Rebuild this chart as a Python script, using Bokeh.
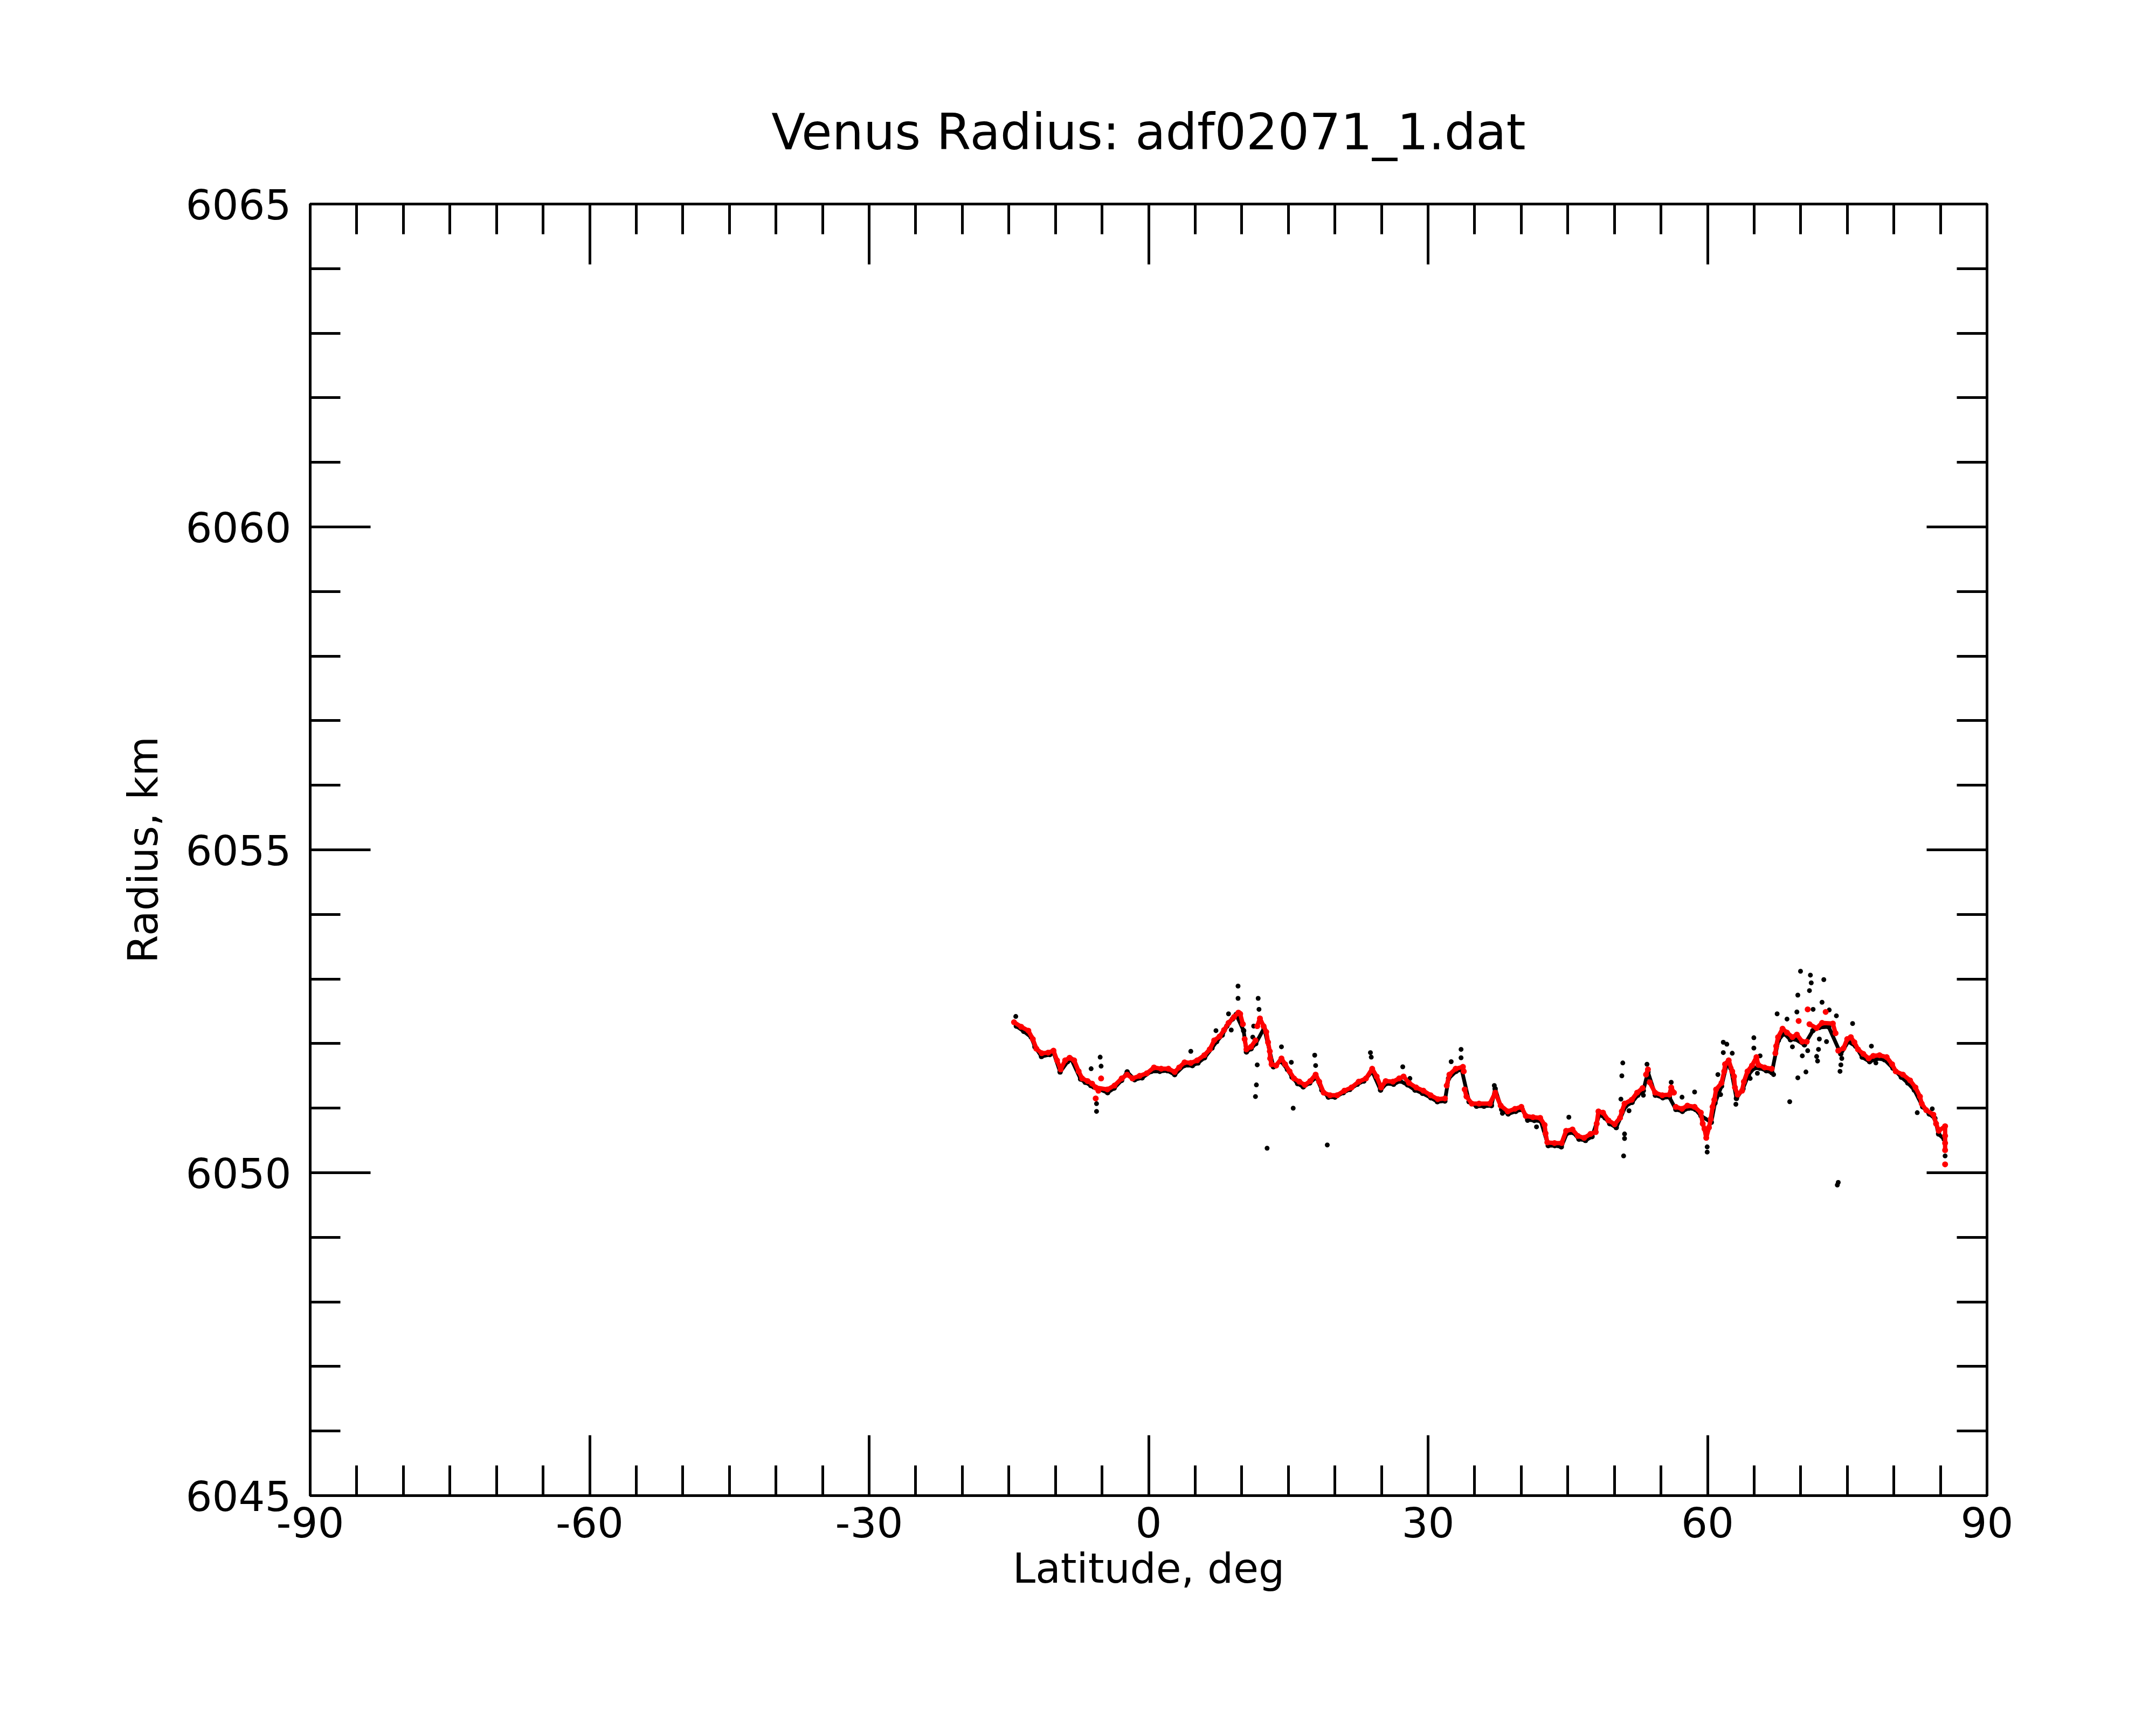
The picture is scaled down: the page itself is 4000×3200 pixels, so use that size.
from bokeh.plotting import figure
from bokeh.models import LinearAxis, FixedTicker, Range1d, ColumnDataSource
from bokeh.embed import file_html
from bokeh.resources import INLINE

# ---------------- data ----------------
title_text = "Venus Radius: adf02071_1.dat"
x_label = "Latitude, deg"
y_label = "Radius, km"

x_major = [-90, -60, -30, 0, 30, 60, 90]
x_major_labels = ["-90", "-60", "-30", "0", "30", "60", "90"]
y_major = [6045, 6050, 6055, 6060, 6065]
y_major_labels = ["6045", "6050", "6055", "6060", "6065"]

# smoothed radius profile (red), continuous trace
red_lat = [-14.45, -13.68, -12.91, -12.43, -12.05, -11.47, -10.79, -10.21, -9.83, -9.44,
           -8.96, -8.48, -7.99, -7.51, -7.13, -6.55, -6.07, -5.68, -4.43, -3.66,
           -2.89, -2.31, -1.73, -0.96, -0.19, 0.58, 1.35, 2.13, 2.80, 3.28,
           3.86, 4.53, 5.21, 5.98, 6.56, 7.04, 7.62, 8.10, 8.58, 9.16,
           9.64, 9.83, 10.12, 10.31, 10.50, 10.99, 11.47, 11.66, 11.95, 12.34,
           12.63, 12.82, 13.01, 13.05, 13.20, 13.69, 14.26, 14.65, 15.13, 15.61,
           16.19, 16.77, 17.35, 17.93, 18.31, 18.79, 19.47, 20.24, 21.01, 21.78,
           22.55, 23.33, 24.00, 24.48, 24.96, 25.45, 26.22, 26.89, 27.37, 27.95,
           28.72, 29.50, 30.27, 31.04, 31.81, 32.00, 32.29, 32.96, 33.74, 33.83,
           33.93, 34.12, 34.70, 35.47, 36.63, 37.21, 37.79, 38.56, 39.33, 40.01,
           40.49, 41.26, 42.03, 42.51, 42.61, 42.80, 43.57, 44.34, 44.82, 45.50,
           46.08, 46.75, 47.43, 48.00, 48.10, 48.29, 48.78, 49.36, 50.03, 50.61,
           50.80, 51.09, 51.86, 52.44, 53.02, 53.40, 53.60, 53.79, 54.37, 55.14,
           55.91, 56.10, 56.39, 56.59, 57.26, 57.84, 58.61, 59.28, 59.48, 59.67,
           59.86, 60.15, 60.34, 60.54, 60.73, 60.92, 61.50, 61.79, 61.88, 62.27,
           62.65, 62.84, 62.94, 63.23, 63.71, 63.90, 64.29, 64.77, 65.25, 65.45,
           66.12, 66.89, 67.28, 67.37, 67.57, 68.05, 68.53, 69.11, 69.59, 70.17,
           70.65, 70.94, 71.71, 72.29, 73.45, 73.74, 74.03, 74.60, 74.99, 75.38,
           75.76, 76.15, 76.72, 77.30, 77.79, 78.46, 79.23, 79.81, 80.20, 80.97,
           81.74, 82.32, 82.80, 82.99, 83.47, 84.24, 84.53, 84.82, 85.50, 85.50,
           85.50, 85.50, 85.50]
red_rad = [6052.33, 6052.26, 6052.20, 6052.07, 6051.92, 6051.85, 6051.86, 6051.89, 6051.74, 6051.60,
           6051.74, 6051.78, 6051.74, 6051.57, 6051.46, 6051.42, 6051.38, 6051.32, 6051.29, 6051.35,
           6051.46, 6051.52, 6051.46, 6051.50, 6051.54, 6051.63, 6051.61, 6051.61, 6051.56, 6051.63,
           6051.71, 6051.70, 6051.74, 6051.82, 6051.91, 6052.05, 6052.11, 6052.21, 6052.32, 6052.41,
           6052.48, 6052.46, 6052.30, 6052.07, 6051.91, 6051.95, 6052.05, 6052.27, 6052.39, 6052.27,
           6052.18, 6052.02, 6051.88, 6051.77, 6051.68, 6051.66, 6051.77, 6051.68, 6051.57, 6051.46,
           6051.41, 6051.36, 6051.42, 6051.52, 6051.41, 6051.24, 6051.20, 6051.20, 6051.27, 6051.32,
           6051.41, 6051.46, 6051.61, 6051.49, 6051.32, 6051.42, 6051.41, 6051.46, 6051.49, 6051.39,
           6051.32, 6051.27, 6051.20, 6051.14, 6051.15, 6051.35, 6051.52, 6051.61, 6051.64, 6051.57,
           6051.29, 6051.18, 6051.07, 6051.07, 6051.07, 6051.24, 6051.04, 6050.95, 6050.99, 6051.02,
           6050.88, 6050.86, 6050.85, 6050.74, 6050.61, 6050.47, 6050.46, 6050.46, 6050.65, 6050.67,
           6050.57, 6050.54, 6050.60, 6050.63, 6050.76, 6050.95, 6050.93, 6050.81, 6050.75, 6050.85,
           6050.95, 6051.07, 6051.13, 6051.24, 6051.31, 6051.52, 6051.60, 6051.40, 6051.24, 6051.20,
           6051.21, 6051.32, 6051.24, 6051.02, 6050.99, 6051.04, 6051.02, 6050.93, 6050.76, 6050.68,
           6050.54, 6050.70, 6050.83, 6051.02, 6051.13, 6051.29, 6051.39, 6051.57, 6051.68, 6051.74,
           6051.57, 6051.49, 6051.32, 6051.21, 6051.27, 6051.41, 6051.57, 6051.66, 6051.79, 6051.67,
           6051.63, 6051.61, 6051.85, 6051.96, 6052.10, 6052.23, 6052.17, 6052.10, 6052.14, 6052.03,
           6052.03, 6052.30, 6052.24, 6052.32, 6052.31, 6052.16, 6051.89, 6051.93, 6052.07, 6052.10,
           6052.02, 6051.91, 6051.84, 6051.77, 6051.81, 6051.82, 6051.79, 6051.68, 6051.57, 6051.52,
           6051.43, 6051.32, 6051.18, 6051.07, 6050.97, 6050.90, 6050.76, 6050.65, 6050.72, 6050.57,
           6050.46, 6050.35, 6050.13]

# smoothed profile (red), isolated dots off the trace
red_dot_lat = [-5.68, -5.39, -5.10, 69.78, 70.75, 72.68]
red_dot_rad = [6051.15, 6051.27, 6051.46, 6052.35, 6052.53, 6052.49]

# raw radius samples (black) that show beside the red trace
raw_lat = [-14.2, -13.4, -12.6, -12.2, -11.5, -10.6, -10.2, -9.5, -8.7, -8.3,
           -7.3, -6.8, -6.2, -5.9, -4.4, -3.7, -2.9, -2.3, -1.5, -0.7,
           0.3, 1.2, 2.0, 2.8, 3.8, 4.7, 5.3, 6.0, 6.8, 7.3,
           7.9, 8.4, 9.0, 9.4, 10.2, 10.5, 11.0, 11.5, 12.4, 13.4,
           14.2, 14.9, 15.4, 16.0, 16.6, 17.3, 18.0, 18.6, 19.3, 20.0,
           20.9, 21.6, 22.4, 23.1, 24.0, 24.9, 25.5, 26.3, 27.0, 27.8,
           28.6, 29.4, 30.3, 31.0, 31.8, 32.2, 33.0, 33.6, 34.4, 35.2,
           36.0, 36.8, 37.2, 37.9, 38.6, 39.4, 40.1, 40.7, 41.4, 42.1,
           42.9, 43.6, 44.3, 44.9, 45.6, 46.2, 46.9, 47.6, 48.4, 49.0,
           49.5, 50.2, 51.2, 51.9, 52.5, 53.1, 53.6, 54.4, 55.2, 55.9,
           56.6, 57.3, 58.0, 58.7, 59.3, 60.4, 60.8, 61.5, 62.1, 62.5,
           63.1, 63.8, 64.4, 65.0, 65.6, 66.3, 66.9, 67.6, 68.2, 68.9,
           69.4, 70.4, 71.3, 72.0, 73.0, 74.3, 75.1, 75.9, 76.6, 77.4,
           78.2, 79.0, 79.9, 80.8, 81.5, 82.2, 83.1, 83.8, 84.4, 84.8,
           85.4]
raw_rad = [6052.27, 6052.19, 6052.10, 6051.95, 6051.80, 6051.83, 6051.86, 6051.56, 6051.72, 6051.76,
           6051.45, 6051.40, 6051.35, 6051.33, 6051.24, 6051.31, 6051.43, 6051.56, 6051.44, 6051.47,
           6051.57, 6051.57, 6051.58, 6051.52, 6051.66, 6051.66, 6051.70, 6051.78, 6051.93, 6052.03,
           6052.13, 6052.27, 6052.38, 6052.45, 6052.20, 6051.87, 6051.92, 6052.00, 6052.24, 6051.64,
           6051.73, 6051.60, 6051.48, 6051.38, 6051.33, 6051.39, 6051.48, 6051.28, 6051.17, 6051.17,
           6051.24, 6051.29, 6051.37, 6051.42, 6051.57, 6051.28, 6051.38, 6051.37, 6051.42, 6051.36,
           6051.28, 6051.23, 6051.16, 6051.10, 6051.11, 6051.46, 6051.57, 6051.60, 6051.10, 6051.03,
           6051.03, 6051.04, 6051.30, 6050.98, 6050.91, 6050.95, 6050.98, 6050.82, 6050.81, 6050.80,
           6050.42, 6050.42, 6050.40, 6050.61, 6050.62, 6050.52, 6050.50, 6050.56, 6050.90, 6050.85,
           6050.76, 6050.70, 6051.03, 6051.09, 6051.20, 6051.27, 6051.56, 6051.20, 6051.16, 6051.17,
           6050.98, 6050.95, 6051.00, 6050.98, 6050.88, 6050.78, 6051.08, 6051.34, 6051.70, 6051.62,
           6051.15, 6051.30, 6051.52, 6051.62, 6051.62, 6051.58, 6051.55, 6052.05, 6052.16, 6052.06,
           6052.07, 6051.98, 6052.20, 6052.25, 6052.26, 6051.84, 6052.03, 6051.96, 6051.79, 6051.72,
           6051.77, 6051.75, 6051.62, 6051.48, 6051.39, 6051.28, 6051.02, 6050.91, 6050.84, 6050.60,
           6050.52]

# raw radius samples (black) scattered away from the trace
out_lat = [-14.26, -6.17, -5.20, -5.10, -5.59, -5.59, 4.53, 7.23, 8.58, 8.87,
           9.60, 9.60, 11.76, 11.85, 11.28, 11.18, 11.66, 11.57, 11.47, 12.72,
           15.52, 19.18, 14.26, 15.32, 17.83, 17.93, 23.81, 23.90, 27.28, 28.05,
           32.48, 33.54, 33.54, 37.11, 37.98, 40.68, 41.64, 45.11, 50.90, 50.80,
           51.09, 51.09, 50.99, 51.57, 50.70, 53.50, 53.11, 56.10, 58.61, 57.26,
           59.96, 59.96, 61.11, 61.69, 61.69, 61.40, 62.07, 62.65, 63.04, 64.58,
           64.97, 64.97, 65.35, 65.64, 67.09, 67.47, 68.53, 68.82, 69.11, 69.59,
           69.69, 69.69, 69.98, 70.17, 70.56, 70.75, 70.94, 71.04, 71.13, 71.33,
           71.71, 71.81, 71.91, 72.00, 72.29, 72.48, 72.77, 73.06, 73.45, 73.83,
           73.93, 74.03, 74.22, 74.31, 74.41, 75.57, 77.59, 78.07, 82.51, 84.12,
           85.50]
out_rad = [6052.42, 6051.61, 6051.79, 6051.65, 6051.07, 6050.95, 6051.88, 6052.20, 6052.46, 6052.21,
           6052.89, 6052.70, 6052.70, 6052.53, 6052.27, 6052.10, 6051.67, 6051.36, 6051.18, 6050.38,
           6051.00, 6050.43, 6051.95, 6051.71, 6051.82, 6051.66, 6051.86, 6051.79, 6051.64, 6051.46,
           6051.72, 6051.91, 6051.78, 6051.35, 6050.92, 6050.81, 6050.71, 6050.86, 6051.70, 6051.50,
           6050.60, 6050.53, 6050.26, 6050.96, 6051.14, 6051.68, 6051.20, 6051.40, 6051.25, 6051.17,
           6050.40, 6050.32, 6051.52, 6052.02, 6051.86, 6051.21, 6051.99, 6051.85, 6051.06, 6051.46,
           6052.09, 6051.93, 6051.54, 6051.81, 6051.52, 6052.46, 6052.38, 6051.10, 6051.95, 6052.49,
           6052.75, 6051.47, 6053.12, 6051.81, 6051.56, 6051.89, 6052.82, 6053.06, 6052.94, 6052.53,
           6051.80, 6051.73, 6051.91, 6052.07, 6052.64, 6052.99, 6052.03, 6052.52, 6052.16, 6052.43,
           6049.81, 6049.85, 6051.57, 6051.67, 6051.77, 6052.31, 6051.96, 6051.70, 6050.93, 6050.99,
           6050.26]

# ---------------- figure ----------------
FONT = "DejaVu Sans"

p = figure(width=3984, height=3184, output_backend="svg", toolbar_location=None,
           x_range=Range1d(-90, 90), y_range=Range1d(6045, 6065),
           min_border_left=575, min_border_right=298,
           min_border_top=378, min_border_bottom=410,
           x_axis_label=x_label, y_axis_label=y_label,
           background_fill_color="white", border_fill_color="white")
p.grid.visible = False
p.outline_line_color = "black"
p.outline_line_width = 5

p.title.text = title_text
p.title.align = "center"
p.title.text_font = FONT
p.title.text_font_size = "92px"
p.title.text_font_style = "normal"
p.title.text_color = "black"
p.title.standoff = 160

x_minor = list(range(-90, 91, 5))
y_minor = list(range(6045, 6066, 1))


def style_axis(ax, major, minor, labels, standoff, label_standoff=0):
    ax.ticker = FixedTicker(ticks=major, minor_ticks=minor)
    ax.axis_line_color = "black"
    ax.axis_line_width = 5
    ax.major_tick_line_color = "black"
    ax.major_tick_line_width = 5
    ax.minor_tick_line_color = "black"
    ax.minor_tick_line_width = 5
    ax.major_tick_in = 112
    ax.major_tick_out = 0
    ax.minor_tick_in = 56
    ax.minor_tick_out = 0
    ax.major_label_text_font = FONT
    ax.major_label_text_color = "black"
    ax.major_label_standoff = standoff
    if labels is not None:
        ax.major_label_overrides = {v: t for v, t in zip(major, labels)}
        ax.major_label_text_font_size = "77px"
        ax.axis_label_text_font = FONT
        ax.axis_label_text_font_size = "76px"
        ax.axis_label_text_font_style = "normal"
        ax.axis_label_text_color = "black"
        ax.axis_label_standoff = label_standoff
    else:
        ax.major_label_text_font_size = "1px"
        ax.major_label_overrides = {v: "" for v in major}


style_axis(p.xaxis[0], x_major, x_minor, x_major_labels, 21, 10)
style_axis(p.yaxis[0], y_major, y_minor, y_major_labels, 35, 32)

top_axis = LinearAxis()
style_axis(top_axis, x_major, x_minor, None, 0)
p.add_layout(top_axis, "above")
right_axis = LinearAxis()
style_axis(right_axis, y_major, y_minor, None, 0)
p.add_layout(right_axis, "right")

# split the red trace into line segments where it is continuous
segs_x, segs_y = [], []
cur_x, cur_y = [red_lat[0]], [red_rad[0]]
for i in range(1, len(red_lat)):
    if abs(red_rad[i] - red_rad[i - 1]) > 0.2:
        segs_x.append(cur_x)
        segs_y.append(cur_y)
        cur_x, cur_y = [], []
    cur_x.append(red_lat[i])
    cur_y.append(red_rad[i])
segs_x.append(cur_x)
segs_y.append(cur_y)

raw_src = ColumnDataSource(dict(x=raw_lat, y=raw_rad))
out_src = ColumnDataSource(dict(x=out_lat, y=out_rad))
red_src = ColumnDataSource(dict(x=red_lat, y=red_rad))
dot_src = ColumnDataSource(dict(x=red_dot_lat, y=red_dot_rad))

p.line("x", "y", source=raw_src, line_color="black", line_width=7)
p.scatter("x", "y", source=raw_src, marker="circle", size=10,
          fill_color="black", line_color=None)
p.scatter("x", "y", source=out_src, marker="circle", size=9,
          fill_color="black", line_color=None)
p.multi_line(segs_x, segs_y, line_color="red", line_width=8)
p.scatter("x", "y", source=red_src, marker="circle", size=11,
          fill_color="red", line_color=None)
p.scatter("x", "y", source=dot_src, marker="circle", size=11,
          fill_color="red", line_color=None)

open("out.html", "w").write(file_html(p, INLINE))
